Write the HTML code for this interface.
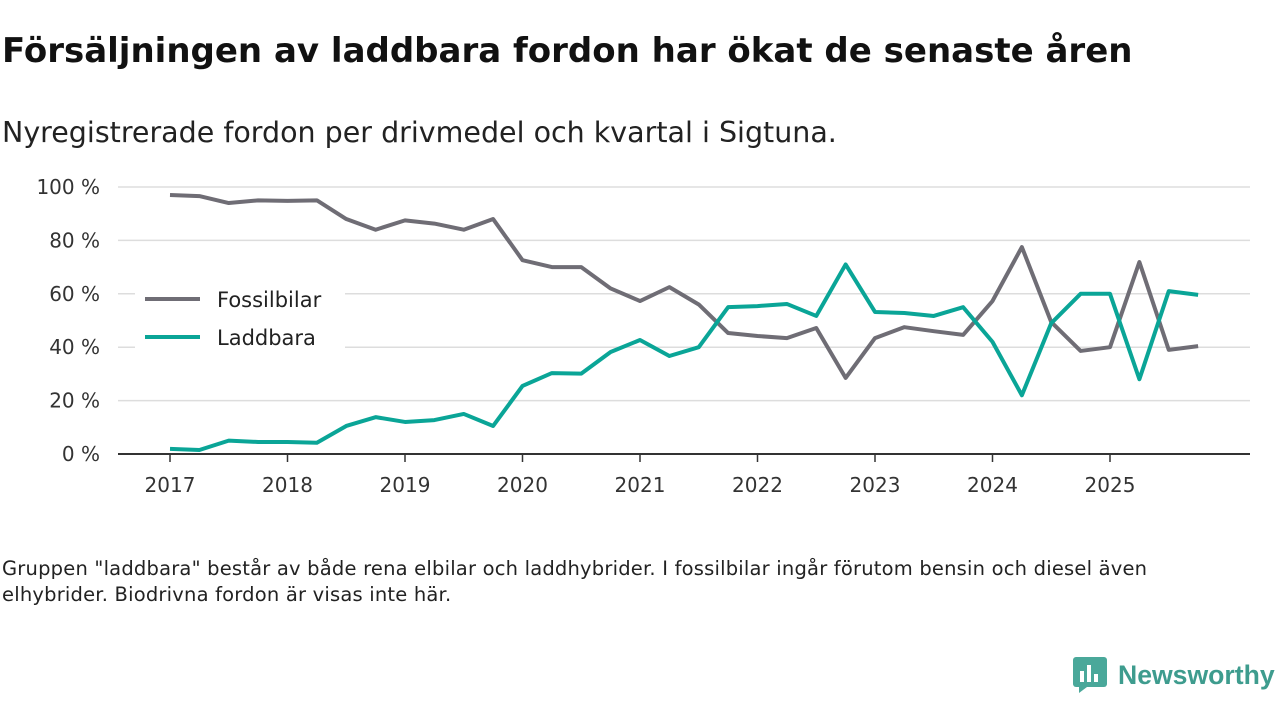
<!DOCTYPE html>
<html><head><meta charset="utf-8"><style>
body{margin:0;width:1280px;height:720px;background:#fff;font-family:"DejaVu Sans","Liberation Sans",sans-serif;overflow:hidden;position:relative}
#title{position:absolute;left:2px;top:31px;font-size:34px;font-weight:bold;color:#111;margin:0;white-space:nowrap}
#sub{position:absolute;left:2px;top:116px;font-size:28.5px;color:#222;white-space:nowrap}
#note{position:absolute;left:2px;top:556px;font-size:19.5px;letter-spacing:0.2px;color:#222;line-height:26px;width:1215px}
svg{position:absolute;left:0;top:0}
</style></head><body>
<h1 id="title">Försäljningen av laddbara fordon har ökat de senaste åren</h1>
<div id="sub">Nyregistrerade fordon per drivmedel och kvartal i Sigtuna.</div>
<svg id="chart" width="1280" height="720"></svg>
<div id="note">Gruppen "laddbara" består av både rena elbilar och laddhybrider. I fossilbilar ingår förutom bensin och diesel även elhybrider. Biodrivna fordon är visas inte här.</div>
<div style="position:absolute;left:1073px;top:657px;display:flex;align-items:center">
<svg width="34" height="36" style="position:static"><rect x="0" y="0" width="34" height="30" rx="3" fill="#4aa89a"/><polygon points="6,30 14,30 6,36" fill="#4aa89a"/><rect x="7" y="14" width="4" height="11" fill="#fff"/><rect x="14" y="8" width="4" height="17" fill="#fff"/><rect x="21" y="17" width="4" height="8" fill="#fff"/></svg>
<span style="margin-left:11px;font-size:26.6px;font-weight:bold;color:#3e9c8e;font-family:'Liberation Sans',sans-serif">Newsworthy</span></div>
<script>
const years=["2017","2018","2019","2020","2021","2022","2023","2024","2025"];
const yTicks=[0,20,40,60,80,100];
const fossil=[97,96.6,94,95,94.8,95,88,84,87.5,86.3,84,88,72.6,70,70,62,57.3,62.5,56,45.3,44.2,43.4,47.2,28.5,43.4,47.5,46,44.6,57.3,77.5,49.4,38.6,40,71.9,39,40.4];
const laddbara=[1.9,1.5,5,4.5,4.5,4.2,10.5,13.8,12,12.7,15,10.5,25.5,30.3,30.1,38.2,42.7,36.7,40,55,55.4,56.2,51.7,71,53.2,52.8,51.7,55,42,22,49,60,60,28,61,59.6];
const svg=document.getElementById('chart');const NS='http://www.w3.org/2000/svg';
const x=i=>170+i*29.375; const y=v=>454-v*2.67;
function mk(t,a){const e=document.createElementNS(NS,t);for(const k in a)e.setAttribute(k,a[k]);svg.appendChild(e);return e;}
yTicks.forEach(v=>{
 const l=mk('line',{x1:118,x2:1250,y1:y(v),y2:y(v),stroke:v===0?'#333':'#ddd','stroke-width':v===0?2:1.5});
 
 
 const t=mk('text',{x:100,y:y(v)+7,'text-anchor':'end','font-size':20,fill:'#333'});t.textContent=v+' %';
 
 
});
years.forEach((yr,j)=>{
 const xx=x(j*4);
 const tk=mk('line',{x1:xx,x2:xx,y1:454,y2:462,stroke:'#333','stroke-width':1.5});
 
 
 const t=mk('text',{x:xx,y:492,'text-anchor':'middle','font-size':20,fill:'#333'});t.textContent=yr;
 
 
});
function series(d,c,n){const p=mk('polyline',{points:d.map((v,i)=>x(i)+','+y(v)).join(' '),fill:'none',stroke:c,'stroke-width':4,'stroke-linejoin':'round'});
 
 }
series(fossil,'#6f6d75','fossilbilar-line');
series(laddbara,'#0aa597','laddbara-line');
[['Fossilbilar','#6f6d75',299],['Laddbara','#0aa597',337]].forEach(([n,c,yy])=>{
 const bg=mk('rect',{x:135,y:yy-19,width:210,height:36,fill:'#fff'});
 
 
 const l=mk('line',{x1:145,x2:200,y1:yy,y2:yy,stroke:c,'stroke-width':4});
 
 
 const t=mk('text',{x:217,y:yy+8,'font-size':21,fill:'#222'});t.textContent=n;
 
 
});
</script>
</body></html>
